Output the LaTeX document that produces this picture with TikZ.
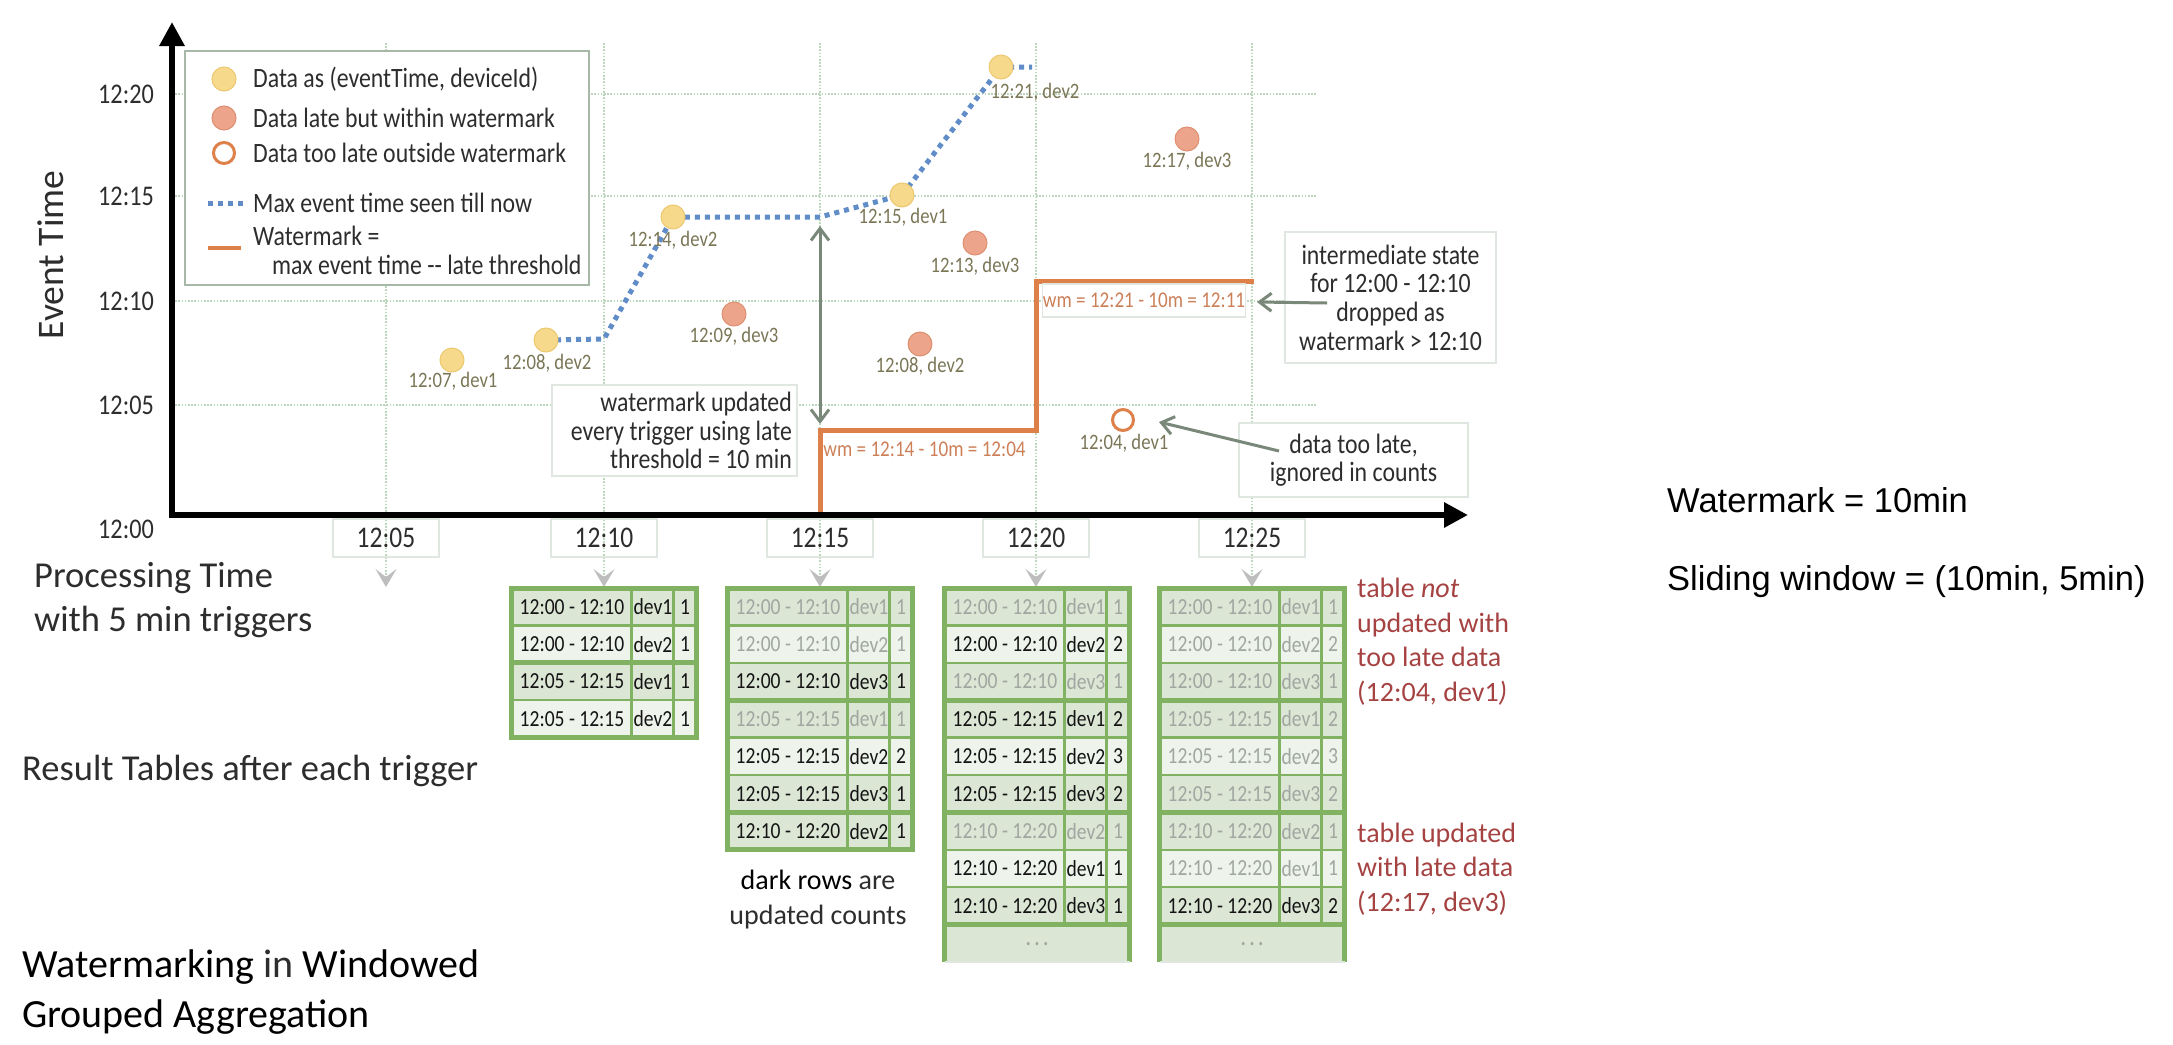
\documentclass[tikz,border=0pt]{standalone}
\usepackage{fontspec}
\setmainfont{Carlito}
\newfontfamily\cond{Carlito}[FakeStretch=0.85]
\newfontfamily\arialf{Liberation Sans}
\usetikzlibrary{arrows.meta}
\pgfdeclarelayer{bg}
\pgfdeclarelayer{mid}
\pgfsetlayers{bg,mid,main}
\definecolor{gridc}{RGB}{188,214,188}
\definecolor{txtc}{RGB}{45,45,45}
\definecolor{lblc}{RGB}{122,118,86}
\definecolor{yfill}{RGB}{247,217,140}
\definecolor{yedge}{RGB}{236,200,112}
\definecolor{rfill}{RGB}{236,165,138}
\definecolor{redge}{RGB}{222,143,115}
\definecolor{wmc}{RGB}{221,128,74}
\definecolor{wmtxt}{RGB}{204,128,88}
\definecolor{bluec}{RGB}{96,140,200}
\definecolor{arrc}{RGB}{122,136,122}
\definecolor{boxc}{RGB}{224,230,224}
\definecolor{legc}{RGB}{168,184,168}
\definecolor{tgreen}{RGB}{128,178,98}
\definecolor{tdark}{RGB}{219,230,213}
\definecolor{tlight}{RGB}{238,243,236}
\definecolor{tblack}{RGB}{20,20,20}
\definecolor{tgray}{RGB}{160,166,160}
\definecolor{redtxt}{RGB}{165,66,66}
\definecolor{trigc}{RGB}{190,190,190}
\newcommand\fsz[2]{\fontsize{#1}{#2}\selectfont}
\tikzset{
 gridln/.style={draw=gridc, line width=1.6pt, dash pattern=on 1.6pt off 1.6pt},
 trig/.style={gridln, -{Stealth[length=18pt,width=21pt,inset=8pt,color=trigc,fill=trigc]}},
 axisln/.style={line width=6pt, line join=miter, {Triangle[length=24pt,width=24pt]}-{Triangle[length=24pt,width=24pt]}},
 ydot/.style={circle, fill=yfill, draw=yedge, line width=1pt, minimum size=24pt, inner sep=0pt},
 rdot/.style={circle, fill=rfill, draw=redge, line width=1pt, minimum size=24pt, inner sep=0pt},
 hdot/.style={circle, fill=white, draw=wmc, line width=3pt, minimum size=21pt, inner sep=0pt},
 ptlbl/.style={font=\cond\fsz{22pt}{24pt}, text=lblc, inner sep=0pt},
 ylbl/.style={font=\cond\fsz{28.5pt}{30pt}, text=txtc, anchor=east, inner sep=0pt},
 xlbl/.style={draw=boxc, line width=1.2pt, minimum width=106pt, minimum height=38pt, font=\cond\fsz{30pt}{30pt}, text=txtc, inner sep=0pt},
 maxln/.style={draw=bluec, line width=5pt, dash pattern=on 5pt off 5pt},
 wmln/.style={draw=wmc, line width=5pt, line join=miter},
 note/.style={draw=boxc, line width=1.2pt, fill=white, font=\cond\fsz{28pt}{28.6pt}, text=txtc, inner sep=0pt},
 notetxt/.style={font=\cond\fsz{28pt}{28.6pt}, text=txtc, inner sep=0pt},
 wmlbl/.style={font=\cond\fsz{22.5pt}{24pt}, text=wmtxt, inner sep=0pt},
 callout/.style={draw=arrc, line width=3pt, -{Straight Barb[length=12pt,width=18pt]}},
 dblarr/.style={draw=arrc, line width=3pt, {Straight Barb[length=12pt,width=18pt]}-{Straight Barb[length=12pt,width=18pt]}},
 legtxt/.style={font=\cond\fsz{28pt}{29pt}, text=txtc, anchor=west, inner sep=0pt},
 cell/.style={font=\cond\fsz{23pt}{24pt}, inner sep=0pt},
 tline/.style={draw=tgreen, line width=2.5pt},
 tsep/.style={draw=tgreen, line width=5pt},
 tbord/.style={draw=tgreen, line width=5pt},
 redlbl/.style={font=\fsz{28pt}{34.5pt}, text=redtxt, align=left, anchor=west, inner sep=0pt},
 bigtxt/.style={font=\fsz{36.5pt}{43.5pt}, text=txtc, align=left, anchor=west, inner sep=0pt},
}
% row: #1 prefix, #2 cx, #3 index, #4 fill, #5 text colour, #6 window, #7 dev, #8 count
\newcommand\tabrow[8]{%
  \fill[#4] ({#2-92.5},{588+#3*37.4}) rectangle ({#2+92.5},{588+(#3+1)*37.4});
  \node[cell, text=#5, anchor=west] (#1w#3) at ({#2-84.5},{588+(#3+0.5)*37.4}) {#6};
  \node[cell, text=#5, anchor=west] (#1d#3) at ({#2+29.5},{588+(#3+0.5)*37.4}) {#7};
  \node[cell, text=#5] (#1c#3) at ({#2+81},{588+(#3+0.5)*37.4}) {#8};
}
% grid: #1 cx, #2 rows, #3 data rows, #4 separators
\newcommand\tabgrid[4]{%
  \pgfmathsetmacro\tL{#1-92.5}
  \pgfmathtruncatemacro\tN{#2-1}
  \foreach \i in {1,...,\tN} {\draw[tline] (\tL,{588+\i*37.4}) -- ++(185,0);}
  \draw[tline] (\tL+120,588) -- (\tL+120,{588+#3*37.4});
  \draw[tline] (\tL+162,588) -- (\tL+162,{588+#3*37.4});
  \foreach \s in {#4} {\draw[tsep] ({\tL-1.5},{588+\s*37.4}) -- ++(188,0);}
}
\begin{document}
\begin{tikzpicture}[x=1pt,y=-1pt]
\useasboundingbox (0,0) rectangle (2173,1044);

% ---------- coordinates
\coordinate (orig) at (172,515);
\coordinate (ytop) at (172,22);
\coordinate (xend) at (1468,515);
\foreach \n/\x in {05/386,10/604,15/820,20/1036,25/1252}{
  \coordinate (g\n top) at (\x,43);
  \coordinate (x\n c) at (\x,538);
  \coordinate (t\n top) at (\x,587);
}

% ---------- grid (background)
\begin{pgfonlayer}{bg}
\foreach \y in {94,196,301,405}{\draw[gridln] (172,\y) -- (1317,\y);}
\foreach \n in {05,10,15,20,25}{
  \draw[gridln] (g\n top) -- (x\n c);
  \draw[trig] (x\n c) -- (t\n top);
}
\end{pgfonlayer}

% ---------- legend
\node[draw=legc, line width=2.5pt, fill=white, minimum width=404pt, minimum height=234pt, inner sep=0pt] (legend) at (387,168) {};
\node[ydot] (ly) at (224,79) {};
\node[legtxt] (lty) at (253,79) {Data as (eventTime, deviceId)};
\node[rdot] (lr) at (224,118) {};
\node[legtxt] (ltr) at (253,118) {Data late but within watermark};
\node[hdot] (lh) at (224,153) {};
\node[legtxt] (lth) at (253,153) {Data too late outside watermark};
\coordinate (lm1) at (208,203); \coordinate (lm2) at (243,203);
\draw[maxln] (lm1) -- (lm2);
\node[legtxt] (ltm) at (253,203) {Max event time seen till now};
\coordinate (lw1) at (208,248); \coordinate (lw2) at (241,248);
\draw[wmln, line width=4pt] (lw1) -- (lw2);
\node[legtxt] (ltw1) at (253,236) {Watermark =};
\node[legtxt] (ltw2) at (272,265) {max event time -{}- late threshold};

% ---------- notes
\node[note, minimum width=245pt, minimum height=91pt] (nwm) at (674.5,430.5) {};
\node[notetxt, align=right, anchor=east] (nwmt) at (792,430.5) {watermark updated\\every trigger using late\\threshold = 10 min};
\node[note, minimum width=211pt, minimum height=131pt, align=center] (nint) at (1390.5,297.5) {intermediate state\\for 12:00 - 12:10\\dropped as\\watermark > 12:10};
\node[note, minimum width=229pt, minimum height=74pt, align=center] (nlate) at (1353.5,460) {data too late,\\ignored in counts};
\node[wmlbl, draw=boxc, line width=1.2pt, fill=white, minimum width=194pt, minimum height=33pt] (wm2) at (1144,300.5) {wm = 12:21 - 10m = 12:11};
\node[wmlbl] (wm1) at (924.5,449.4) {wm = 12:14 - 10m = 12:04};

% ---------- data points
\node[ydot] (p07) at (452,360) {};
\node[ptlbl] (l07) at (453,381) {12:07, dev1};
\node[ydot] (p08) at (546,340) {};
\node[ptlbl] (l08) at (547,363) {12:08, dev2};
\node[ydot] (p14) at (673,217) {};
\node[ptlbl] (l14) at (673,240) {12:14, dev2};
\node[rdot] (p09) at (734,314) {};
\node[ptlbl] (l09) at (734,336) {12:09, dev3};
\node[ydot] (p15) at (902,195) {};
\node[ptlbl] (l15) at (903,217) {12:15, dev1};
\node[ydot] (p21) at (1001,67) {};
\node[ptlbl] (l21) at (1035,92) {12:21, dev2};
\node[rdot] (p13) at (975,243) {};
\node[ptlbl] (l13) at (975,266) {12:13, dev3};
\node[rdot] (p08b) at (920,344) {};
\node[ptlbl] (l08b) at (920,366) {12:08, dev2};
\node[rdot] (p17) at (1187,139) {};
\node[ptlbl] (l17) at (1187,161) {12:17, dev3};
\node[hdot] (p04) at (1123,420) {};
\node[ptlbl] (l04) at (1124,443) {12:04, dev1};

% ---------- lines in the middle layer
\begin{pgfonlayer}{mid}
\coordinate (k1) at (604,339);
\coordinate (k2) at (820,217);
\coordinate (k3) at (1032,67);
\draw[maxln] (p08.center) -- (k1) -- (p14.center) -- (k2) -- (p15.center) -- (p21.center) -- (k3);
\coordinate (w0) at (820,515);
\coordinate (w1) at (820,430);
\coordinate (w2) at (1036,430);
\coordinate (w3) at (1036,281);
\coordinate (w4) at (1254,281);
\draw[wmln] (w0) -- (w1) -- (w2) -- (w3) -- (w4);
\coordinate (da1) at (820,226);
\coordinate (da2) at (820,424);
\draw[dblarr] (da1) -- (da2);
\end{pgfonlayer}

% ---------- callouts
\coordinate (ia) at (1327,303);
\coordinate (ib) at (1257,302);
\draw[callout] (ia) -- (ib);
\coordinate (la) at (1279,451);
\coordinate (lb) at (1159,422);
\draw[callout] (la) -- (lb);

% ---------- axes and labels
\draw[axisln] (ytop) -- (orig) -- (xend);
\node[ylbl] (y20) at (154,94) {12:20};
\node[ylbl] (y15) at (154,196) {12:15};
\node[ylbl] (y10) at (154,301) {12:10};
\node[ylbl] (y05) at (154,405) {12:05};
\node[ylbl] (y00) at (154,529) {12:00};
\node[font=\fsz{37.5pt}{40pt}, text=txtc, rotate=90, inner sep=0pt] (evt) at (51,255) {Event Time};
\node[xlbl] (x05) at (x05c) {12:05};
\node[xlbl] (x10) at (x10c) {12:10};
\node[xlbl] (x15) at (x15c) {12:15};
\node[xlbl] (x20) at (x20c) {12:20};
\node[xlbl] (x25) at (x25c) {12:25};

% ---------- tables
% table after 12:10
\tabrow{a}{604}{0}{tdark}{tblack}{12:00 - 12:10}{dev1}{1}
\tabrow{a}{604}{1}{tlight}{tblack}{12:00 - 12:10}{dev2}{1}
\tabrow{a}{604}{2}{tdark}{tblack}{12:05 - 12:15}{dev1}{1}
\tabrow{a}{604}{3}{tlight}{tblack}{12:05 - 12:15}{dev2}{1}
\tabgrid{604}{4}{4}{2}
\draw[tbord] (511.5,588) rectangle (696.5,{588+4*37.4});
% table after 12:15
\tabrow{b}{820}{0}{tdark}{tgray}{12:00 - 12:10}{dev1}{1}
\tabrow{b}{820}{1}{tlight}{tgray}{12:00 - 12:10}{dev2}{1}
\tabrow{b}{820}{2}{tdark}{tblack}{12:00 - 12:10}{dev3}{1}
\tabrow{b}{820}{3}{tdark}{tgray}{12:05 - 12:15}{dev1}{1}
\tabrow{b}{820}{4}{tlight}{tblack}{12:05 - 12:15}{dev2}{2}
\tabrow{b}{820}{5}{tdark}{tblack}{12:05 - 12:15}{dev3}{1}
\tabrow{b}{820}{6}{tdark}{tblack}{12:10 - 12:20}{dev2}{1}
\tabgrid{820}{7}{7}{3,6}
\draw[tbord] (727.5,588) rectangle (912.5,{588+7*37.4});
% table after 12:20
\tabrow{c}{1037}{0}{tdark}{tgray}{12:00 - 12:10}{dev1}{1}
\tabrow{c}{1037}{1}{tlight}{tblack}{12:00 - 12:10}{dev2}{2}
\tabrow{c}{1037}{2}{tdark}{tgray}{12:00 - 12:10}{dev3}{1}
\tabrow{c}{1037}{3}{tdark}{tblack}{12:05 - 12:15}{dev1}{2}
\tabrow{c}{1037}{4}{tlight}{tblack}{12:05 - 12:15}{dev2}{3}
\tabrow{c}{1037}{5}{tdark}{tblack}{12:05 - 12:15}{dev3}{2}
\tabrow{c}{1037}{6}{tdark}{tgray}{12:10 - 12:20}{dev2}{1}
\tabrow{c}{1037}{7}{tlight}{tblack}{12:10 - 12:20}{dev1}{1}
\tabrow{c}{1037}{8}{tdark}{tblack}{12:10 - 12:20}{dev3}{1}
\fill[tdark] (944.5,{588+9*37.4}) rectangle (1129.5,{588+10*37.4});
\node[cell, text=tgray] (cdots) at (1037,946) {·\,·\,·};
\tabgrid{1037}{10}{9}{3,6,9}
\draw[tbord] (944.5,{588+10*37.4}) -- (944.5,588) -- (1129.5,588) -- (1129.5,{588+10*37.4});
\draw[draw=boxc, line width=1.5pt] (944.5,{588+10*37.4}) -- (1129.5,{588+10*37.4});
% table after 12:25
\tabrow{d}{1252}{0}{tdark}{tgray}{12:00 - 12:10}{dev1}{1}
\tabrow{d}{1252}{1}{tlight}{tgray}{12:00 - 12:10}{dev2}{2}
\tabrow{d}{1252}{2}{tdark}{tgray}{12:00 - 12:10}{dev3}{1}
\tabrow{d}{1252}{3}{tdark}{tgray}{12:05 - 12:15}{dev1}{2}
\tabrow{d}{1252}{4}{tlight}{tgray}{12:05 - 12:15}{dev2}{3}
\tabrow{d}{1252}{5}{tdark}{tgray}{12:05 - 12:15}{dev3}{2}
\tabrow{d}{1252}{6}{tdark}{tgray}{12:10 - 12:20}{dev2}{1}
\tabrow{d}{1252}{7}{tlight}{tgray}{12:10 - 12:20}{dev1}{1}
\tabrow{d}{1252}{8}{tdark}{tblack}{12:10 - 12:20}{dev3}{2}
\fill[tdark] (1159.5,{588+9*37.4}) rectangle (1344.5,{588+10*37.4});
\node[cell, text=tgray] (ddots) at (1252,946) {·\,·\,·};
\tabgrid{1252}{10}{9}{3,6,9}
\draw[tbord] (1159.5,{588+10*37.4}) -- (1159.5,588) -- (1344.5,588) -- (1344.5,{588+10*37.4});
\draw[draw=boxc, line width=1.5pt] (1159.5,{588+10*37.4}) -- (1344.5,{588+10*37.4});

% ---------- side texts
\node[redlbl] (rl1) at (1357,641.5) {table \textit{not}\\updated with\\too late data\\(12:04, dev1\textit{)}};
\node[redlbl] (rl2) at (1357,869) {table updated\\with late data\\(12:17, dev3)};
\node[font=\fsz{28pt}{35pt}, align=center, inner sep=0pt] (dark) at (818,899.5) {dark rows {\color{txtc}are}\\{\color{txtc}updated counts}};
\node[font=\arialf\fsz{34.5pt}{36pt}, anchor=west, inner sep=0pt] (wmset) at (1667,500) {Watermark = 10min};
\node[font=\arialf\fsz{34.5pt}{36pt}, anchor=west, inner sep=0pt] (swset) at (1667,582) {Sliding window = (10min, 5min)};
\node[bigtxt] (ptime) at (34,600) {Processing Time\\with 5 min triggers};
\node[bigtxt] (rtab) at (22,771) {Result Tables after each trigger};
\node[font=\fsz{40pt}{50pt}, align=left, anchor=west, inner sep=0pt] (title) at (22,992) {Watermarking {\color{txtc}in} Windowed\\Grouped Aggregation};
\end{tikzpicture}
\end{document}
